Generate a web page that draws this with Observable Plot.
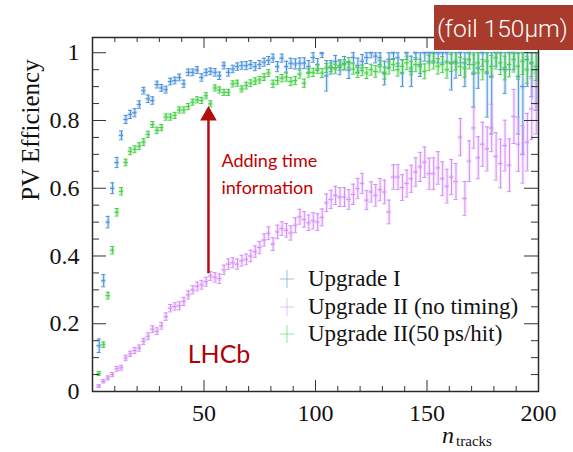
<!DOCTYPE html>
<html><head><meta charset="utf-8">
<script src="https://cdn.jsdelivr.net/npm/d3@7"></script>
<script src="https://cdn.jsdelivr.net/npm/@observablehq/plot@0.6"></script>
<style>
body{margin:0;background:#fff}
#wrap{position:relative;width:573px;height:452px;overflow:hidden;background:#fff}
#wrap svg{position:absolute;left:0;top:0}
.leg{position:absolute;font-family:"Liberation Serif",serif;font-size:23px;color:#111;white-space:nowrap}
.foil{position:absolute;left:434px;top:5px;width:139px;height:45px;background:#a83b2b;color:#fff;font-family:Roboto,"Liberation Sans",sans-serif;font-weight:300;font-size:24.5px;line-height:47px;padding-left:3px;box-sizing:border-box;white-space:nowrap}
</style></head>
<body><div id="wrap"></div>
<script>
// bin centres (n_tracks)
const nTracks = [3,5,7,9,11,13,15,17,19,21,23,25,27,29,31,33,35,37,39,41,43,45,47,49,51,53,55,57,59,61,63,65,67,69,71,73,75,77,79,81,83,85,87,89,91,93,95,97,99,101,103,105,107,109,111,113,115,117,119,121,123,125,127,129,131,133,135,137,139,141,143,145,147,149,151,153,155,157,159,161,163,165,167,169,171,173,175,177,179,181,183,185,187,189,191,193,195,197,199];

const blueEff = [0.135,0.327,0.50,0.60,0.676,0.756,0.803,0.818,0.823,0.847,0.888,0.864,0.859,0.906,0.896,0.891,0.915,
0.918,0.927,0.908,0.942,0.942,0.949,0.927,0.942,0.945,0.942,0.932,0.962,0.942,0.952,0.959,0.962,0.962,0.965,0.959,0.965,0.972,0.977,
0.984,0.959,0.984,0.959,0.969,0.967,0.969,0.969,0.959,0.986,0.965,0.998,0.932,0.957,0.974,0.957,0.969,0.949,0.986,0.962,0.975,0.986,
1.0,0.99,0.985,0.94,0.98,1.0,0.985,0.94,1.0,0.945,1.0,0.965,1.0,1.0,1.0,1.0,1.0,1.0,0.97,0.97,1.0,0.97,1.0,0.94,0.955,1.0,0.94,0.93,1.0,1.0,0.95,1.0,1.0,0.93,0.90,0.98,0.97,0.95];
const blueErr = [0.02,0.018,0.017,0.016,0.015,0.013,0.012,0.012,0.012,0.011,0.01,0.011,0.011,0.01,0.01,0.01,0.01,
0.01,0.01,0.011,0.01,0.01,0.01,0.011,0.01,0.01,0.011,0.011,0.01,0.011,0.011,0.011,0.011,0.012,0.012,0.012,0.012,0.012,0.012,
0.012,0.015,0.012,0.016,0.015,0.015,0.016,0.016,0.018,0.014,0.018,0.012,0.045,0.02,0.018,0.022,0.02,0.025,0.016,0.022,0.02,0.018,
0.015,0.02,0.02,0.035,0.025,0.02,0.025,0.04,0.02,0.045,0.02,0.035,0.025,0.025,0.03,0.03,0.03,0.03,0.08,0.045,0.03,0.07,0.035,0.1,0.06,0.04,0.13,0.17,0.04,0.05,0.07,0.05,0.05,0.17,0.2,0.08,0.1,0.12];

const violetEff = [0.016,0.030,0.040,0.050,0.067,0.070,0.099,0.111,0.121,0.128,0.148,0.163,0.184,0.178,0.194,0.221,0.246,
0.251,0.253,0.266,0.285,0.30,0.31,0.315,0.324,0.341,0.337,0.333,0.359,0.376,0.38,0.376,0.386,0.39,0.40,0.413,0.425,0.447,0.467,
0.435,0.471,0.481,0.476,0.468,0.491,0.516,0.508,0.498,0.504,0.50,0.514,0.557,0.567,0.579,0.574,0.574,0.567,0.582,0.599,0.614,0.565,
0.589,0.579,0.596,0.589,0.53,0.633,0.633,0.602,0.614,0.628,0.648,0.663,0.677,0.643,0.643,0.66,0.628,0.606,0.633,0.62,0.751,0.57,0.68,0.778,0.69,0.73,0.716,0.778,0.694,0.673,0.726,0.668,0.812,0.73,0.70,0.736,0.834,0.85];
const violetErr = [0.004,0.005,0.006,0.006,0.007,0.007,0.008,0.008,0.009,0.009,0.009,0.01,0.01,0.01,0.01,0.011,0.011,
0.011,0.012,0.012,0.012,0.012,0.013,0.013,0.013,0.013,0.014,0.014,0.014,0.015,0.015,0.015,0.016,0.016,0.017,0.017,0.018,0.018,0.019,
0.019,0.02,0.02,0.02,0.021,0.022,0.022,0.023,0.023,0.024,0.025,0.025,0.026,0.027,0.027,0.028,0.028,0.029,0.03,0.03,0.03,0.028,
0.03,0.032,0.033,0.035,0.035,0.036,0.037,0.038,0.04,0.04,0.042,0.043,0.045,0.046,0.047,0.048,0.05,0.05,0.052,0.053,0.055,0.05,0.06,0.06,0.062,0.065,0.065,0.07,0.07,0.072,0.075,0.078,0.08,0.08,0.085,0.085,0.09,0.09];

const greenEff = [0.053,0.138,0.283,0.417,0.529,0.591,0.676,0.709,0.715,0.724,0.736,0.759,0.788,0.771,0.779,0.81,0.81,
0.815,0.831,0.831,0.841,0.854,0.861,0.859,0.873,0.849,0.896,0.89,0.883,0.883,0.908,0.91,0.893,0.903,0.91,0.916,0.92,0.928,0.94,
0.908,0.918,0.925,0.928,0.915,0.918,0.937,0.91,0.94,0.942,0.952,0.94,0.955,0.957,0.952,0.962,0.965,0.971,0.952,0.942,0.948,0.94,
0.95,0.945,0.96,0.94,0.955,0.965,0.95,0.96,0.97,0.955,0.965,0.96,0.945,0.97,0.975,0.96,0.965,0.95,0.97,0.975,0.96,0.955,0.98,0.965,0.97,0.95,0.975,0.96,0.985,0.97,0.955,0.965,0.98,0.96,0.975,0.95,0.97,0.96];
const greenErr = [0.006,0.008,0.01,0.011,0.011,0.011,0.01,0.01,0.01,0.01,0.01,0.009,0.009,0.009,0.009,0.009,0.009,
0.009,0.009,0.009,0.009,0.009,0.009,0.009,0.009,0.009,0.009,0.009,0.009,0.009,0.009,0.009,0.009,0.01,0.01,0.01,0.01,0.01,0.01,
0.011,0.011,0.011,0.012,0.012,0.012,0.012,0.012,0.012,0.012,0.013,0.013,0.013,0.013,0.014,0.014,0.014,0.015,0.015,0.015,0.016,0.016,
0.016,0.017,0.017,0.018,0.018,0.018,0.019,0.019,0.02,0.02,0.021,0.021,0.022,0.022,0.023,0.023,0.024,0.025,0.025,0.026,0.027,0.027,0.028,0.029,0.03,0.03,0.031,0.032,0.033,0.034,0.035,0.036,0.037,0.038,0.039,0.04,0.04,0.042];

const seriesNames = ["Upgrade I", "Upgrade II (no timing)", "Upgrade II(50\u2009ps/hit)"];
const seriesColors = ["#4a92dc", "#d58ff6", "#46cf46"];

// axis ticks
const xLabelTicks = [50,100,150,200];
const xMinorTicks = [10,20,30,40,60,70,80,90,110,120,130,140,160,170,180,190];
const xMajorTicks = [50,100,150];
const yLabelTicks = [0,0.2,0.4,0.6,0.8,1];
const yMajorTicks = [0.2,0.4,0.6,0.8,1];
const yMinorTicks = [0.05,0.1,0.15,0.25,0.3,0.35,0.45,0.5,0.55,0.65,0.7,0.75,0.85,0.9,0.95];

// annotations (data coordinates)
const arrowX = 52, arrowFrom = 0.349, arrowTo = 0.842;
const noteLines = ["Adding time", "information"];
const noteX = 57.8, noteY = [0.662, 0.584];
const lhcbX = 42.7, lhcbY = 0.083;

const W = 573, H = 452, mL = 92, mR = 35, mT = 37, mB = 61;
const innerW = W - mL - mR, innerH = H - mT - mB;

const allSeries = [
  {name: seriesNames[0], color: seriesColors[0], eff: blueEff, err: blueErr},
  {name: seriesNames[1], color: seriesColors[1], eff: violetEff, err: violetErr},
  {name: seriesNames[2], color: seriesColors[2], eff: greenEff, err: greenErr}
];

const dataMarks = allSeries.flatMap(s => {
  const rows = nTracks.map((x, i) => ({
    x, y: s.eff[i],
    lo: s.eff[i] - s.err[i],
    hi: Math.min(1, s.eff[i] + s.err[i])
  }));
  const c = s.color;
  return [
    Plot.ruleX(rows, {x: "x", y1: "lo", y2: "hi", stroke: c, strokeWidth: 3.5, strokeOpacity: 0.2}),
    Plot.ruleY(rows, {y: "y", x1: d => d.x - 1, x2: d => d.x + 1, stroke: c, strokeWidth: 4, strokeOpacity: 0.2}),
    Plot.ruleX(rows, {x: "x", y1: "lo", y2: "hi", stroke: c, strokeWidth: 1}),
    Plot.ruleY(rows, {y: "y", x1: d => d.x - 1, x2: d => d.x + 1, stroke: c, strokeWidth: 1}),
    Plot.ruleY(rows, {y: "lo", x1: d => d.x - 0.9, x2: d => d.x + 0.9, stroke: c, strokeWidth: 1}),
    Plot.ruleY(rows, {y: "hi", x1: d => d.x - 0.9, x2: d => d.x + 0.9, stroke: c, strokeWidth: 1})
  ];
});

const tickCol = "#333";
const plot = Plot.plot({
  width: W, height: H,
  marginLeft: mL, marginRight: mR, marginTop: mT, marginBottom: mB,
  x: {domain: [0, 200]},
  y: {domain: [0, 1.045]},
  style: {fontFamily: "'Liberation Serif', serif", fontSize: "24px", color: "#111", background: "transparent"},
  marks: [
    ...dataMarks,
    // arrow
    Plot.link([0], {x1: () => arrowX, x2: () => arrowX, y1: () => arrowFrom, y2: () => arrowTo - 0.03, stroke: "#b30d12", strokeWidth: 2.5}),
    Plot.dot([0], {x: () => arrowX, y: () => arrowTo, dy: 9.3, r: 6.2, symbol: d3.symbolTriangle, fill: "#b30d12", stroke: "none"}),
    Plot.text(noteLines, {x: () => noteX, y: (d, i) => noteY[i], text: d => d, textAnchor: "start", lineAnchor: "bottom", fill: "#c00000", fontFamily: "Lato, 'Open Sans', sans-serif", fontSize: 18}),
    Plot.text(["LHCb"], {x: () => lhcbX, y: () => lhcbY, text: d => d, textAnchor: "start", lineAnchor: "bottom", fill: "#b0000a", fontFamily: "Lato, 'Open Sans', sans-serif", fontSize: 25}),
    Plot.frame({stroke: "#2a2a2a", strokeWidth: 1.5}),
    // ticks bottom / top
    Plot.tickX(xMinorTicks, {x: d => d, insetTop: innerH - 5, stroke: tickCol}),
    Plot.tickX(xMajorTicks, {x: d => d, insetTop: innerH - 11, stroke: tickCol}),
    Plot.tickX(xMinorTicks, {x: d => d, insetBottom: innerH - 5, stroke: tickCol}),
    Plot.tickX(xMajorTicks, {x: d => d, insetBottom: innerH - 11, stroke: tickCol}),
    // ticks left / right
    Plot.tickY(yMinorTicks, {y: d => d, insetRight: innerW - 7, stroke: tickCol}),
    Plot.tickY(yMajorTicks, {y: d => d, insetRight: innerW - 14, stroke: tickCol}),
    Plot.tickY(yMinorTicks, {y: d => d, insetLeft: innerW - 7, stroke: tickCol}),
    Plot.tickY(yMajorTicks, {y: d => d, insetLeft: innerW - 14, stroke: tickCol}),
    Plot.axisX(xLabelTicks, {tickSize: 0, tickPadding: 12, label: null, fontSize: 24}),
    Plot.axisY(yLabelTicks, {tickSize: 0, tickPadding: 13, label: null, fontSize: 24, tickFormat: d3.format("~g")})
  ]
});

const wrap = document.getElementById("wrap");
wrap.appendChild(plot);

// axis titles
const svg = d3.select(plot);
svg.append("text")
  .attr("transform", "translate(39,130) rotate(-90)")
  .attr("text-anchor", "middle")
  .attr("font-family", "'Liberation Serif', serif")
  .attr("font-size", 25).attr("fill", "#111")
  .text("PV Efficiency");
const xt = svg.append("text").attr("x", 467).attr("y", 443)
  .attr("font-family", "'Liberation Serif', serif").attr("fill", "#111");
xt.append("tspan").attr("font-style", "italic").attr("font-size", 24).text("n");
xt.append("tspan").attr("font-size", 15).attr("dy", 3).attr("dx", 2).text("tracks");

// legend
allSeries.forEach((s, i) => {
  const row = document.createElement("div");
  row.className = "leg";
  row.style.left = "279px";
  row.style.top = (266 + i * 27.5) + "px";
  row.innerHTML = `<svg width="16" height="22" style="position:static;vertical-align:-4px;margin-right:13px">
    <line x1="8" y1="2" x2="8" y2="20" stroke="${s.color}" stroke-opacity="0.55" stroke-width="1"/>
    <line x1="1" y1="11" x2="15" y2="11" stroke="${s.color}" stroke-opacity="0.55" stroke-width="1"/></svg>` +
    `<span></span>`;
  row.querySelector("span").textContent = s.name;
  wrap.appendChild(row);
});

const foil = document.createElement("div");
foil.className = "foil";
foil.textContent = "(foil 150\u00b5m)";
wrap.appendChild(foil);
</script>
</body></html>
